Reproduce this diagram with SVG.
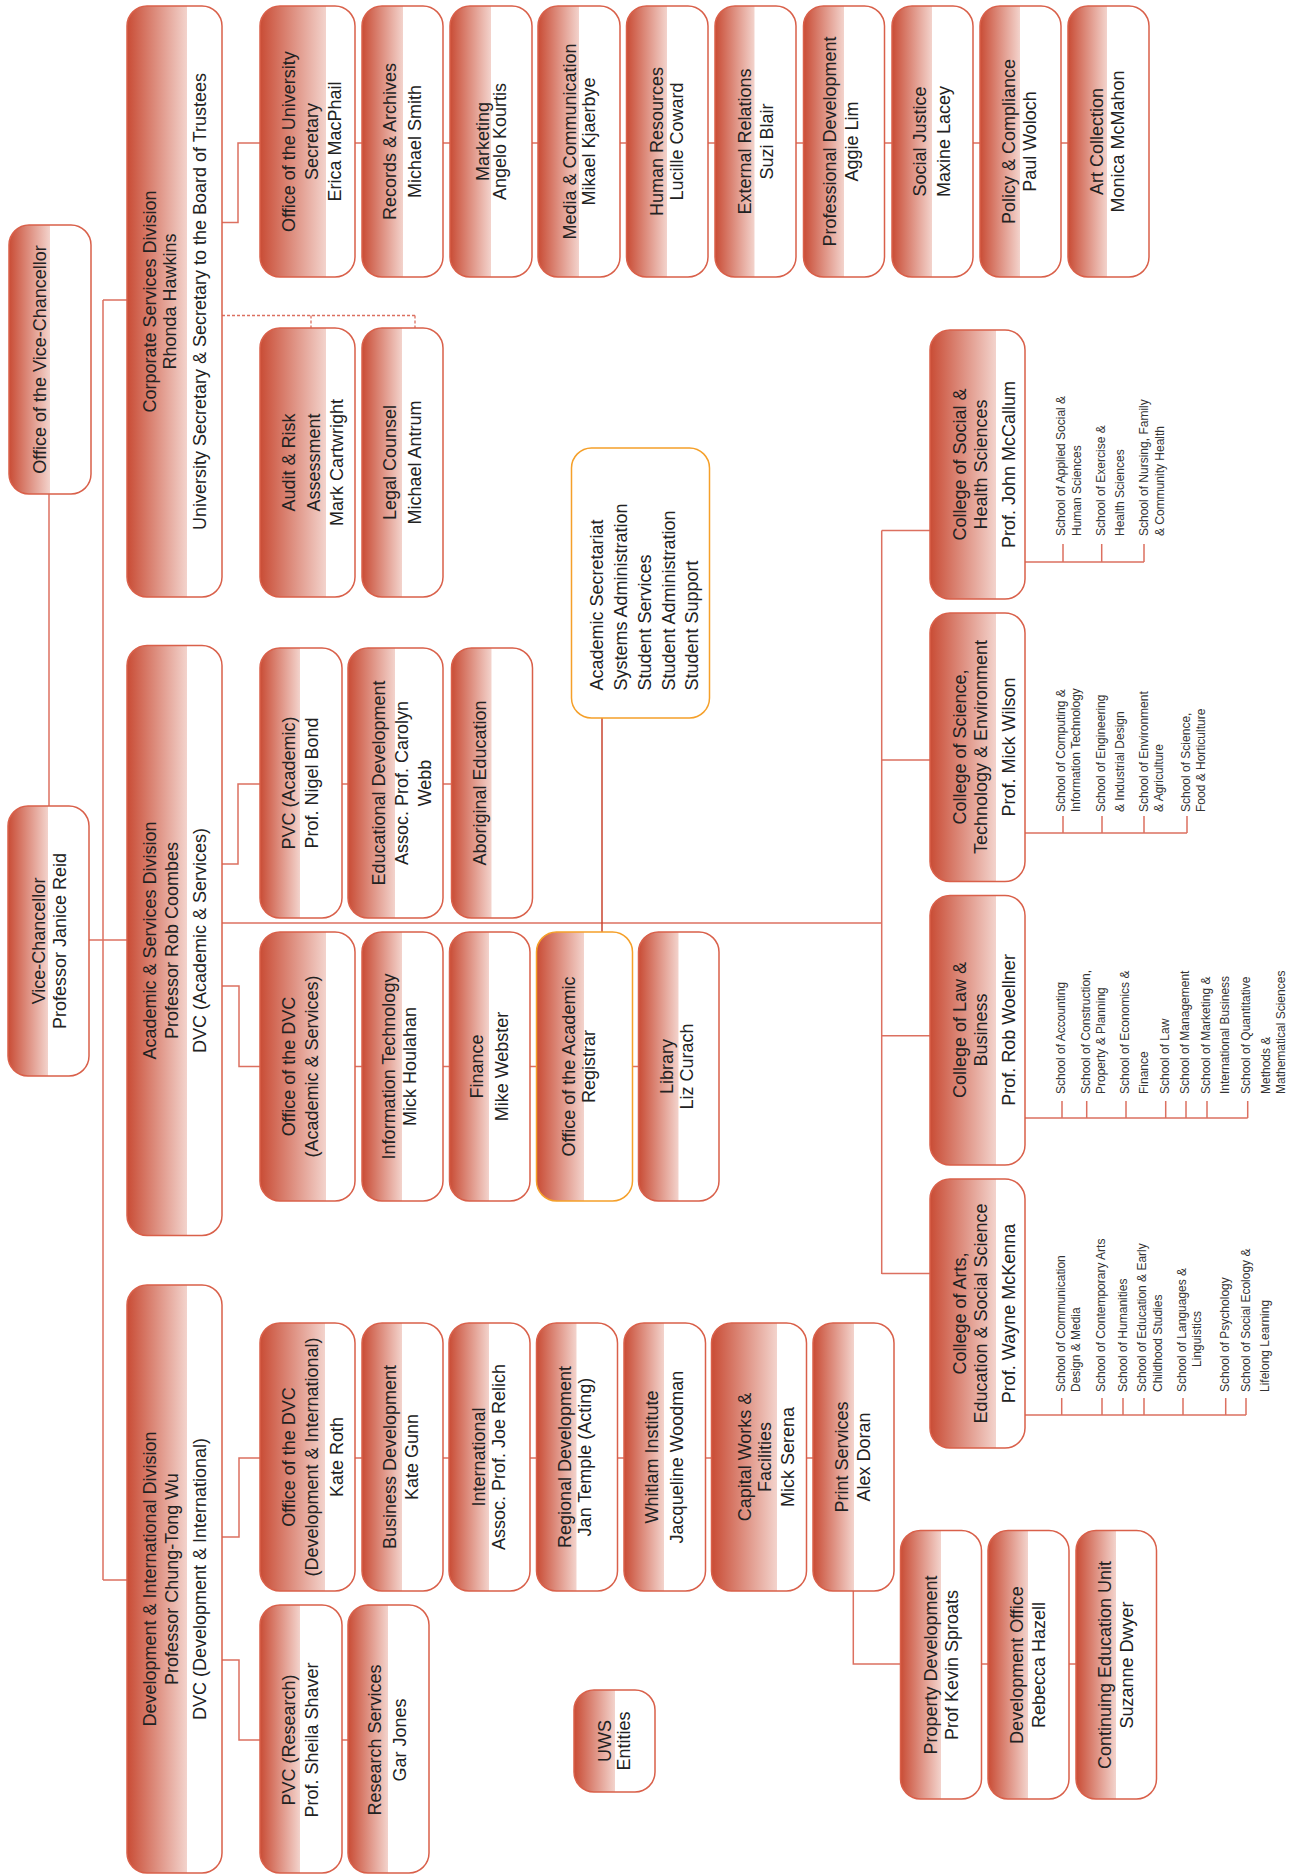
<svg xmlns="http://www.w3.org/2000/svg" width="1295" height="1874" viewBox="0 0 1295 1874">
<defs>
<linearGradient id="g" x1="0" y1="0" x2="1" y2="0">
<stop offset="0" stop-color="#c94c35"/>
<stop offset="1" stop-color="#f3d3cc"/>
</linearGradient>
<style>
.bg{fill:#fff}
.gr{fill:url(#g)}
.bd{fill:none;stroke:#d9604a;stroke-width:1.5}
.bo{fill:none;stroke:#f5a02a;stroke-width:1.5}
.t{font-family:"Liberation Sans",Arial,Helvetica,sans-serif;font-size:18px;fill:#222;text-anchor:middle}
.a{font-family:"Liberation Sans",Arial,Helvetica,sans-serif;font-size:18px;fill:#222;text-anchor:start}
.s{font-family:"Liberation Sans",Arial,Helvetica,sans-serif;font-size:12px;fill:#333;text-anchor:start}
.c{fill:none;stroke:#dc7060;stroke-width:1.5}
.cd{fill:none;stroke:#c8452f;stroke-width:1.5}
.dt{fill:none;stroke:#dc7060;stroke-width:1.3;stroke-dasharray:3 2}
</style>
</defs>
<rect width="1295" height="1874" fill="#fff"/>
<g id="connectors">
<path class="c" d="M49,494V806"/>
<path class="c" d="M89,940H127"/>
<path class="c" d="M103,300V1580M103,300H127M103,1580H127"/>
<path class="c" d="M222,222.6H238V143H1068"/>
<path class="dt" d="M222,315.5H415M311,315.5V328M415,315.5V328"/>
<path class="c" d="M222,864H238V784H451.5"/>
<path class="c" d="M222,923H881.7"/>
<path class="c" d="M222,986H239V1066.5H638.5"/>
<path class="cd" d="M602,718V932"/>
<path class="c" d="M881.7,530.6V1274M881.7,530.6H930M881.7,760H930M881.7,1035.7H930M881.7,1273.5H930"/>
<path class="c" d="M222,1537H239V1458H813"/>
<path class="c" d="M222,1660H239V1740H348"/>
<path class="c" d="M853.3,1591V1664H1076"/>
<path class="c" d="M1025,562H1144M1063,562V544M1101.7,562V544M1144,562V544"/>
<path class="c" d="M1025,833H1187M1063,833V816M1102,833V816M1144,833V816M1187,833V816"/>
<path class="c" d="M1025,1118H1247.7M1062,1118V1101M1086.7,1118V1101M1126,1118V1101M1165.7,1118V1101M1186,1118V1101M1207,1118V1101M1247.7,1118V1101"/>
<path class="c" d="M1025,1415H1246M1061.7,1415V1398M1102,1415V1398M1123,1415V1398M1144,1415V1398M1183,1415V1398M1225.7,1415V1398M1246,1415V1398"/>
</g>

<g id="n-ovc"><rect class="bg" x="9" y="225" width="82" height="269" rx="20"/><path class="gr" d="M50,225H29A20,20 0 0 0 9,245V474A20,20 0 0 0 29,494H50Z"/><rect class="bd" x="9" y="225" width="82" height="269" rx="20"/>
<text class="t" transform="rotate(-90)"><tspan x="-359.5" y="46">Office of the Vice-Chancellor</tspan></text></g>

<g id="n-vc"><rect class="bg" x="8" y="806" width="81" height="270" rx="20"/><path class="gr" d="M48,806H28A20,20 0 0 0 8,826V1056A20,20 0 0 0 28,1076H48Z"/><rect class="bd" x="8" y="806" width="81" height="270" rx="20"/>
<text class="t" transform="rotate(-90)"><tspan x="-941" y="44.5">Vice-Chancellor</tspan><tspan x="-941" y="66">Professor Janice Reid</tspan></text></g>

<g id="n-csd"><rect class="bg" x="127" y="6" width="95" height="591" rx="20"/><path class="gr" d="M187,6H147A20,20 0 0 0 127,26V577A20,20 0 0 0 147,597H187Z"/><rect class="bd" x="127" y="6" width="95" height="591" rx="20"/>
<text class="t" transform="rotate(-90)"><tspan x="-301.5" y="156">Corporate Services Division</tspan><tspan x="-301.5" y="176">Rhonda Hawkins</tspan><tspan x="-301.5" y="205.5">University Secretary &amp; Secretary to the Board of Trustees</tspan></text></g>

<g id="n-asd"><rect class="bg" x="127" y="645.5" width="95" height="590" rx="20"/><path class="gr" d="M187,645.5H147A20,20 0 0 0 127,665.5V1215.5A20,20 0 0 0 147,1235.5H187Z"/><rect class="bd" x="127" y="645.5" width="95" height="590" rx="20"/>
<text class="t" transform="rotate(-90)"><tspan x="-940.5" y="156">Academic &amp; Services Division</tspan><tspan x="-940.5" y="178">Professor Rob Coombes</tspan><tspan x="-940.5" y="205.5">DVC (Academic &amp; Services)</tspan></text></g>

<g id="n-did"><rect class="bg" x="127" y="1285" width="95" height="588" rx="20"/><path class="gr" d="M187,1285H147A20,20 0 0 0 127,1305V1853A20,20 0 0 0 147,1873H187Z"/><rect class="bd" x="127" y="1285" width="95" height="588" rx="20"/>
<text class="t" transform="rotate(-90)"><tspan x="-1579" y="156">Development &amp; International Division</tspan><tspan x="-1579" y="178">Professor Chung-Tong Wu</tspan><tspan x="-1579" y="205.5">DVC (Development &amp; International)</tspan></text></g>

<g id="n-ous"><rect class="bg" x="260" y="6" width="95" height="271" rx="20"/><path class="gr" d="M326,6H280A20,20 0 0 0 260,26V257A20,20 0 0 0 280,277H326Z"/><rect class="bd" x="260" y="6" width="95" height="271" rx="20"/>
<text class="t" transform="rotate(-90)"><tspan x="-141.5" y="294.5">Office of the University</tspan><tspan x="-141.5" y="318">Secretary</tspan><tspan x="-141.5" y="341">Erica MacPhail</tspan></text></g>

<g id="n-rec"><rect class="bg" x="362" y="6" width="81" height="271" rx="20"/><path class="gr" d="M403,6H382A20,20 0 0 0 362,26V257A20,20 0 0 0 382,277H403Z"/><rect class="bd" x="362" y="6" width="81" height="271" rx="20"/>
<text class="t" transform="rotate(-90)"><tspan x="-141.5" y="396">Records &amp; Archives</tspan><tspan x="-141.5" y="421">Michael Smith</tspan></text></g>

<g id="n-mkt"><rect class="bg" x="450" y="6" width="82" height="271" rx="20"/><path class="gr" d="M491,6H470A20,20 0 0 0 450,26V257A20,20 0 0 0 470,277H491Z"/><rect class="bd" x="450" y="6" width="82" height="271" rx="20"/>
<text class="t" transform="rotate(-90)"><tspan x="-141.5" y="489">Marketing</tspan><tspan x="-141.5" y="506">Angelo Kourtis</tspan></text></g>

<g id="n-med"><rect class="bg" x="538" y="6" width="82" height="271" rx="20"/><path class="gr" d="M579,6H558A20,20 0 0 0 538,26V257A20,20 0 0 0 558,277H579Z"/><rect class="bd" x="538" y="6" width="82" height="271" rx="20"/>
<text class="t" transform="rotate(-90)"><tspan x="-141.5" y="576">Media &amp; Communication</tspan><tspan x="-141.5" y="594.5">Mikael Kjaerbye</tspan></text></g>

<g id="n-hr"><rect class="bg" x="626.5" y="6" width="81.5" height="271" rx="20"/><path class="gr" d="M667,6H646.5A20,20 0 0 0 626.5,26V257A20,20 0 0 0 646.5,277H667Z"/><rect class="bd" x="626.5" y="6" width="81.5" height="271" rx="20"/>
<text class="t" transform="rotate(-90)"><tspan x="-141.5" y="663">Human Resources</tspan><tspan x="-141.5" y="683">Lucille Coward</tspan></text></g>

<g id="n-ext"><rect class="bg" x="715" y="6" width="81" height="271" rx="20"/><path class="gr" d="M754.5,6H735A20,20 0 0 0 715,26V257A20,20 0 0 0 735,277H754.5Z"/><rect class="bd" x="715" y="6" width="81" height="271" rx="20"/>
<text class="t" transform="rotate(-90)"><tspan x="-141.5" y="751">External Relations</tspan><tspan x="-141.5" y="773">Suzi Blair</tspan></text></g>

<g id="n-pd"><rect class="bg" x="803.5" y="6" width="81" height="271" rx="20"/><path class="gr" d="M844,6H823.5A20,20 0 0 0 803.5,26V257A20,20 0 0 0 823.5,277H844Z"/><rect class="bd" x="803.5" y="6" width="81" height="271" rx="20"/>
<text class="t" transform="rotate(-90)"><tspan x="-141.5" y="836">Professional Development</tspan><tspan x="-141.5" y="857.5">Aggie Lim</tspan></text></g>

<g id="n-sj"><rect class="bg" x="892" y="6" width="81" height="271" rx="20"/><path class="gr" d="M932,6H912A20,20 0 0 0 892,26V257A20,20 0 0 0 912,277H932Z"/><rect class="bd" x="892" y="6" width="81" height="271" rx="20"/>
<text class="t" transform="rotate(-90)"><tspan x="-141.5" y="926">Social Justice</tspan><tspan x="-141.5" y="950">Maxine Lacey</tspan></text></g>

<g id="n-pc"><rect class="bg" x="980" y="6" width="81" height="271" rx="20"/><path class="gr" d="M1020,6H1000A20,20 0 0 0 980,26V257A20,20 0 0 0 1000,277H1020Z"/><rect class="bd" x="980" y="6" width="81" height="271" rx="20"/>
<text class="t" transform="rotate(-90)"><tspan x="-141.5" y="1014.5">Policy &amp; Compliance</tspan><tspan x="-141.5" y="1036">Paul Woloch</tspan></text></g>

<g id="n-art"><rect class="bg" x="1068" y="6" width="81" height="271" rx="20"/><path class="gr" d="M1107,6H1088A20,20 0 0 0 1068,26V257A20,20 0 0 0 1088,277H1107Z"/><rect class="bd" x="1068" y="6" width="81" height="271" rx="20"/>
<text class="t" transform="rotate(-90)"><tspan x="-141.5" y="1103">Art Collection</tspan><tspan x="-141.5" y="1124">Monica McMahon</tspan></text></g>

<g id="n-aud"><rect class="bg" x="260" y="328" width="95" height="269" rx="20"/><path class="gr" d="M326,328H280A20,20 0 0 0 260,348V577A20,20 0 0 0 280,597H326Z"/><rect class="bd" x="260" y="328" width="95" height="269" rx="20"/>
<text class="t" transform="rotate(-90)"><tspan x="-462.5" y="295">Audit &amp; Risk</tspan><tspan x="-462.5" y="319.5">Assessment</tspan><tspan x="-462.5" y="343">Mark Cartwright</tspan></text></g>

<g id="n-leg"><rect class="bg" x="362" y="328" width="81" height="269" rx="20"/><path class="gr" d="M402,328H382A20,20 0 0 0 362,348V577A20,20 0 0 0 382,597H402Z"/><rect class="bd" x="362" y="328" width="81" height="269" rx="20"/>
<text class="t" transform="rotate(-90)"><tspan x="-462.5" y="396">Legal Counsel</tspan><tspan x="-462.5" y="421">Michael Antrum</tspan></text></g>

<g id="n-pvca"><rect class="bg" x="260" y="648" width="82" height="270" rx="20"/><path class="gr" d="M300,648H280A20,20 0 0 0 260,668V898A20,20 0 0 0 280,918H300Z"/><rect class="bd" x="260" y="648" width="82" height="270" rx="20"/>
<text class="t" transform="rotate(-90)"><tspan x="-783" y="294.5">PVC (Academic)</tspan><tspan x="-783" y="318">Prof. Nigel Bond</tspan></text></g>

<g id="n-edd"><rect class="bg" x="348" y="648" width="95" height="270" rx="20"/><path class="gr" d="M395,648H368A20,20 0 0 0 348,668V898A20,20 0 0 0 368,918H395Z"/><rect class="bd" x="348" y="648" width="95" height="270" rx="20"/>
<text class="t" transform="rotate(-90)"><tspan x="-783" y="384.5">Educational Development</tspan><tspan x="-783" y="408">Assoc. Prof. Carolyn</tspan><tspan x="-783" y="431">Webb</tspan></text></g>

<g id="n-abe"><rect class="bg" x="451.5" y="648" width="81" height="270" rx="20"/><path class="gr" d="M491.5,648H471.5A20,20 0 0 0 451.5,668V898A20,20 0 0 0 471.5,918H491.5Z"/><rect class="bd" x="451.5" y="648" width="81" height="270" rx="20"/>
<text class="t" transform="rotate(-90)"><tspan x="-783" y="486">Aboriginal Education</tspan></text></g>

<g id="n-odvca"><rect class="bg" x="260" y="932" width="95" height="269" rx="20"/><path class="gr" d="M326,932H280A20,20 0 0 0 260,952V1181A20,20 0 0 0 280,1201H326Z"/><rect class="bd" x="260" y="932" width="95" height="269" rx="20"/>
<text class="t" transform="rotate(-90)"><tspan x="-1066.5" y="294.5">Office of the DVC</tspan><tspan x="-1066.5" y="318">(Academic &amp; Services)</tspan></text></g>

<g id="n-it"><rect class="bg" x="362" y="932" width="81" height="269" rx="20"/><path class="gr" d="M402,932H382A20,20 0 0 0 362,952V1181A20,20 0 0 0 382,1201H402Z"/><rect class="bd" x="362" y="932" width="81" height="269" rx="20"/>
<text class="t" transform="rotate(-90)"><tspan x="-1066.5" y="394.5">Information Technology</tspan><tspan x="-1066.5" y="416">Mick Houlahan</tspan></text></g>

<g id="n-fin"><rect class="bg" x="449.5" y="932" width="80.5" height="269" rx="20"/><path class="gr" d="M489,932H469.5A20,20 0 0 0 449.5,952V1181A20,20 0 0 0 469.5,1201H489Z"/><rect class="bd" x="449.5" y="932" width="80.5" height="269" rx="20"/>
<text class="t" transform="rotate(-90)"><tspan x="-1066.5" y="483">Finance</tspan><tspan x="-1066.5" y="508">Mike Webster</tspan></text></g>

<g id="n-reg"><rect class="bg" x="536.5" y="932" width="96" height="269" rx="20"/><path class="gr" d="M584,932H556.5A20,20 0 0 0 536.5,952V1181A20,20 0 0 0 556.5,1201H584Z"/><rect class="bo" x="536.5" y="932" width="96" height="269" rx="20"/>
<text class="t" transform="rotate(-90)"><tspan x="-1066.5" y="574.5">Office of the Academic</tspan><tspan x="-1066.5" y="594.5">Registrar</tspan></text></g>

<g id="n-lib"><rect class="bg" x="638.5" y="932" width="80.5" height="269" rx="20"/><path class="gr" d="M678.5,932H658.5A20,20 0 0 0 638.5,952V1181A20,20 0 0 0 658.5,1201H678.5Z"/><rect class="bd" x="638.5" y="932" width="80.5" height="269" rx="20"/>
<text class="t" transform="rotate(-90)"><tspan x="-1066.5" y="673">Library</tspan><tspan x="-1066.5" y="693">Liz Curach</tspan></text></g>

<g id="n-acs"><rect class="bg" x="571.5" y="448" width="138" height="270" rx="20"/><rect class="bo" x="571.5" y="448" width="138" height="270" rx="20"/>
<text class="a" transform="rotate(-90)"><tspan x="-690.5" y="603">Academic Secretariat</tspan><tspan x="-690.5" y="627">Systems Administration</tspan><tspan x="-690.5" y="651">Student Services</tspan><tspan x="-690.5" y="675">Student Administration</tspan><tspan x="-690.5" y="698">Student Support</tspan></text></g>

<g id="n-odvcd"><rect class="bg" x="260" y="1323" width="95" height="268" rx="20"/><path class="gr" d="M325,1323H280A20,20 0 0 0 260,1343V1571A20,20 0 0 0 280,1591H325Z"/><rect class="bd" x="260" y="1323" width="95" height="268" rx="20"/>
<text class="t" transform="rotate(-90)"><tspan x="-1457" y="294.5">Office of the DVC</tspan><tspan x="-1457" y="318">(Development &amp; International)</tspan><tspan x="-1457" y="343">Kate Roth</tspan></text></g>

<g id="n-bd"><rect class="bg" x="362" y="1323" width="81" height="268" rx="20"/><path class="gr" d="M402,1323H382A20,20 0 0 0 362,1343V1571A20,20 0 0 0 382,1591H402Z"/><rect class="bd" x="362" y="1323" width="81" height="268" rx="20"/>
<text class="t" transform="rotate(-90)"><tspan x="-1457" y="396">Business Development</tspan><tspan x="-1457" y="418">Kate Gunn</tspan></text></g>

<g id="n-intl"><rect class="bg" x="449" y="1323" width="81" height="268" rx="20"/><path class="gr" d="M489,1323H469A20,20 0 0 0 449,1343V1571A20,20 0 0 0 469,1591H489Z"/><rect class="bd" x="449" y="1323" width="81" height="268" rx="20"/>
<text class="t" transform="rotate(-90)"><tspan x="-1457" y="484.5">International</tspan><tspan x="-1457" y="504.5">Assoc. Prof. Joe Relich</tspan></text></g>

<g id="n-rgd"><rect class="bg" x="536.5" y="1323" width="81" height="268" rx="20"/><path class="gr" d="M576.5,1323H556.5A20,20 0 0 0 536.5,1343V1571A20,20 0 0 0 556.5,1591H576.5Z"/><rect class="bd" x="536.5" y="1323" width="81" height="268" rx="20"/>
<text class="t" transform="rotate(-90)"><tspan x="-1457" y="571">Regional Development</tspan><tspan x="-1457" y="591">Jan Temple (Acting)</tspan></text></g>

<g id="n-wit"><rect class="bg" x="624" y="1323" width="81.5" height="268" rx="20"/><path class="gr" d="M664,1323H644A20,20 0 0 0 624,1343V1571A20,20 0 0 0 644,1591H664Z"/><rect class="bd" x="624" y="1323" width="81.5" height="268" rx="20"/>
<text class="t" transform="rotate(-90)"><tspan x="-1457" y="658">Whitlam Institute</tspan><tspan x="-1457" y="683">Jacqueline Woodman</tspan></text></g>

<g id="n-cap"><rect class="bg" x="711.5" y="1323" width="95" height="268" rx="20"/><path class="gr" d="M777,1323H731.5A20,20 0 0 0 711.5,1343V1571A20,20 0 0 0 731.5,1591H777Z"/><rect class="bd" x="711.5" y="1323" width="95" height="268" rx="20"/>
<text class="t" transform="rotate(-90)"><tspan x="-1457" y="750.5">Capital Works &amp;</tspan><tspan x="-1457" y="771">Facilities</tspan><tspan x="-1457" y="793.5">Mick Serena</tspan></text></g>

<g id="n-prt"><rect class="bg" x="813" y="1323" width="81" height="268" rx="20"/><path class="gr" d="M854,1323H833A20,20 0 0 0 813,1343V1571A20,20 0 0 0 833,1591H854Z"/><rect class="bd" x="813" y="1323" width="81" height="268" rx="20"/>
<text class="t" transform="rotate(-90)"><tspan x="-1457" y="848">Print Services</tspan><tspan x="-1457" y="869.5">Alex Doran</tspan></text></g>

<g id="n-pvcr"><rect class="bg" x="260" y="1605" width="82" height="268" rx="20"/><path class="gr" d="M300,1605H280A20,20 0 0 0 260,1625V1853A20,20 0 0 0 280,1873H300Z"/><rect class="bd" x="260" y="1605" width="82" height="268" rx="20"/>
<text class="t" transform="rotate(-90)"><tspan x="-1740" y="295">PVC (Research)</tspan><tspan x="-1740" y="318">Prof. Sheila Shaver</tspan></text></g>

<g id="n-rs"><rect class="bg" x="348" y="1605" width="81" height="268" rx="20"/><path class="gr" d="M388,1605H368A20,20 0 0 0 348,1625V1853A20,20 0 0 0 368,1873H388Z"/><rect class="bd" x="348" y="1605" width="81" height="268" rx="20"/>
<text class="t" transform="rotate(-90)"><tspan x="-1740" y="381">Research Services</tspan><tspan x="-1740" y="406">Gar Jones</tspan></text></g>

<g id="n-prop"><rect class="bg" x="900.5" y="1530.5" width="81" height="268.5" rx="20"/><path class="gr" d="M941,1530.5H920.5A20,20 0 0 0 900.5,1550.5V1779A20,20 0 0 0 920.5,1799H941Z"/><rect class="bd" x="900.5" y="1530.5" width="81" height="268.5" rx="20"/>
<text class="t" transform="rotate(-90)"><tspan x="-1665" y="937">Property Development</tspan><tspan x="-1665" y="958">Prof Kevin Sproats</tspan></text></g>

<g id="n-devo"><rect class="bg" x="988" y="1530.5" width="81" height="268.5" rx="20"/><path class="gr" d="M1028,1530.5H1008A20,20 0 0 0 988,1550.5V1779A20,20 0 0 0 1008,1799H1028Z"/><rect class="bd" x="988" y="1530.5" width="81" height="268.5" rx="20"/>
<text class="t" transform="rotate(-90)"><tspan x="-1665" y="1023">Development Office</tspan><tspan x="-1665" y="1044.5">Rebecca Hazell</tspan></text></g>

<g id="n-ceu"><rect class="bg" x="1076" y="1530.5" width="80.5" height="268.5" rx="20"/><path class="gr" d="M1116,1530.5H1096A20,20 0 0 0 1076,1550.5V1779A20,20 0 0 0 1096,1799H1116Z"/><rect class="bd" x="1076" y="1530.5" width="80.5" height="268.5" rx="20"/>
<text class="t" transform="rotate(-90)"><tspan x="-1665" y="1111">Continuing Education Unit</tspan><tspan x="-1665" y="1133">Suzanne Dwyer</tspan></text></g>

<g id="n-uws"><rect class="bg" x="574" y="1690" width="81" height="102" rx="20"/><path class="gr" d="M615,1690H594A20,20 0 0 0 574,1710V1772A20,20 0 0 0 594,1792H615Z"/><rect class="bd" x="574" y="1690" width="81" height="102" rx="20"/>
<text class="t" transform="rotate(-90)"><tspan x="-1741" y="611">UWS</tspan><tspan x="-1741" y="629.5">Entities</tspan></text></g>

<g id="n-cshs"><rect class="bg" x="930" y="330" width="95" height="269" rx="20"/><path class="gr" d="M996,330H950A20,20 0 0 0 930,350V579A20,20 0 0 0 950,599H996Z"/><rect class="bd" x="930" y="330" width="95" height="269" rx="20"/>
<text class="t" transform="rotate(-90)"><tspan x="-464.5" y="966">College of Social &amp;</tspan><tspan x="-464.5" y="987">Health Sciences</tspan><tspan x="-464.5" y="1014.5">Prof. John McCallum</tspan></text></g>

<g id="n-cste"><rect class="bg" x="930" y="613" width="95" height="268.5" rx="20"/><path class="gr" d="M996,613H950A20,20 0 0 0 930,633V861.5A20,20 0 0 0 950,881.5H996Z"/><rect class="bd" x="930" y="613" width="95" height="268.5" rx="20"/>
<text class="t" transform="rotate(-90)"><tspan x="-747" y="966">College of Science,</tspan><tspan x="-747" y="987">Technology &amp; Environment</tspan><tspan x="-747" y="1014.5">Prof. Mick Wilson</tspan></text></g>

<g id="n-clb"><rect class="bg" x="930" y="895.5" width="95" height="269.5" rx="20"/><path class="gr" d="M996,895.5H950A20,20 0 0 0 930,915.5V1145A20,20 0 0 0 950,1165H996Z"/><rect class="bd" x="930" y="895.5" width="95" height="269.5" rx="20"/>
<text class="t" transform="rotate(-90)"><tspan x="-1030" y="966">College of Law &amp;</tspan><tspan x="-1030" y="987">Business</tspan><tspan x="-1030" y="1014.5">Prof. Rob Woellner</tspan></text></g>

<g id="n-caes"><rect class="bg" x="930" y="1179" width="95" height="269" rx="20"/><path class="gr" d="M996,1179H950A20,20 0 0 0 930,1199V1428A20,20 0 0 0 950,1448H996Z"/><rect class="bd" x="930" y="1179" width="95" height="269" rx="20"/>
<text class="t" transform="rotate(-90)"><tspan x="-1313.5" y="966">College of Arts,</tspan><tspan x="-1313.5" y="987">Education &amp; Social Science</tspan><tspan x="-1313.5" y="1014.5">Prof. Wayne McKenna</tspan></text></g>

<g id="schools-cshs"><text class="s" transform="rotate(-90)"><tspan x="-536" y="1065">School of Applied Social &amp;</tspan><tspan x="-536" y="1081">Human Sciences</tspan><tspan x="-536" y="1105">School of Exercise &amp;</tspan><tspan x="-536" y="1124">Health Sciences</tspan><tspan x="-536" y="1147.5">School of Nursing, Family</tspan><tspan x="-536" y="1163.5">&amp; Community Health</tspan></text></g>

<g id="schools-cste"><text class="s" transform="rotate(-90)"><tspan x="-812" y="1065">School of Computing &amp;</tspan><tspan x="-812" y="1080">Information Technology</tspan><tspan x="-812" y="1105">School of Engineering</tspan><tspan x="-812" y="1123.5">&amp; Industrial Design</tspan><tspan x="-812" y="1148">School of Environment</tspan><tspan x="-812" y="1163">&amp; Agriculture</tspan><tspan x="-812" y="1190">School of Science,</tspan><tspan x="-812" y="1205">Food &amp; Horticulture</tspan></text></g>

<g id="schools-clb"><text class="s" transform="rotate(-90)"><tspan x="-1094" y="1065">School of Accounting</tspan><tspan x="-1094" y="1090">School of Construction,</tspan><tspan x="-1094" y="1105">Property &amp; Planning</tspan><tspan x="-1094" y="1129">School of Economics &amp;</tspan><tspan x="-1094" y="1148">Finance</tspan><tspan x="-1094" y="1169">School of Law</tspan><tspan x="-1094" y="1189">School of Management</tspan><tspan x="-1094" y="1210">School of Marketing &amp;</tspan><tspan x="-1094" y="1229">International Business</tspan><tspan x="-1094" y="1250">School of Quantitative</tspan><tspan x="-1094" y="1269.5">Methods &amp;</tspan><tspan x="-1094" y="1284.5">Mathematical Sciences</tspan></text></g>

<g id="schools-caes"><text class="s" transform="rotate(-90)"><tspan x="-1392" y="1065">School of Communication</tspan><tspan x="-1392" y="1080">Design &amp; Media</tspan><tspan x="-1392" y="1105">School of Contemporary Arts</tspan><tspan x="-1392" y="1127">School of Humanities</tspan><tspan x="-1392" y="1146">School of Education &amp; Early</tspan><tspan x="-1392" y="1162">Childhood Studies</tspan><tspan x="-1392" y="1186">School of Languages &amp;</tspan><tspan x="-1367" y="1201">Linguistics</tspan><tspan x="-1392" y="1229">School of Psychology</tspan><tspan x="-1392" y="1250">School of Social Ecology &amp;</tspan><tspan x="-1392" y="1269">Lifelong Learning</tspan></text></g>
</svg>
